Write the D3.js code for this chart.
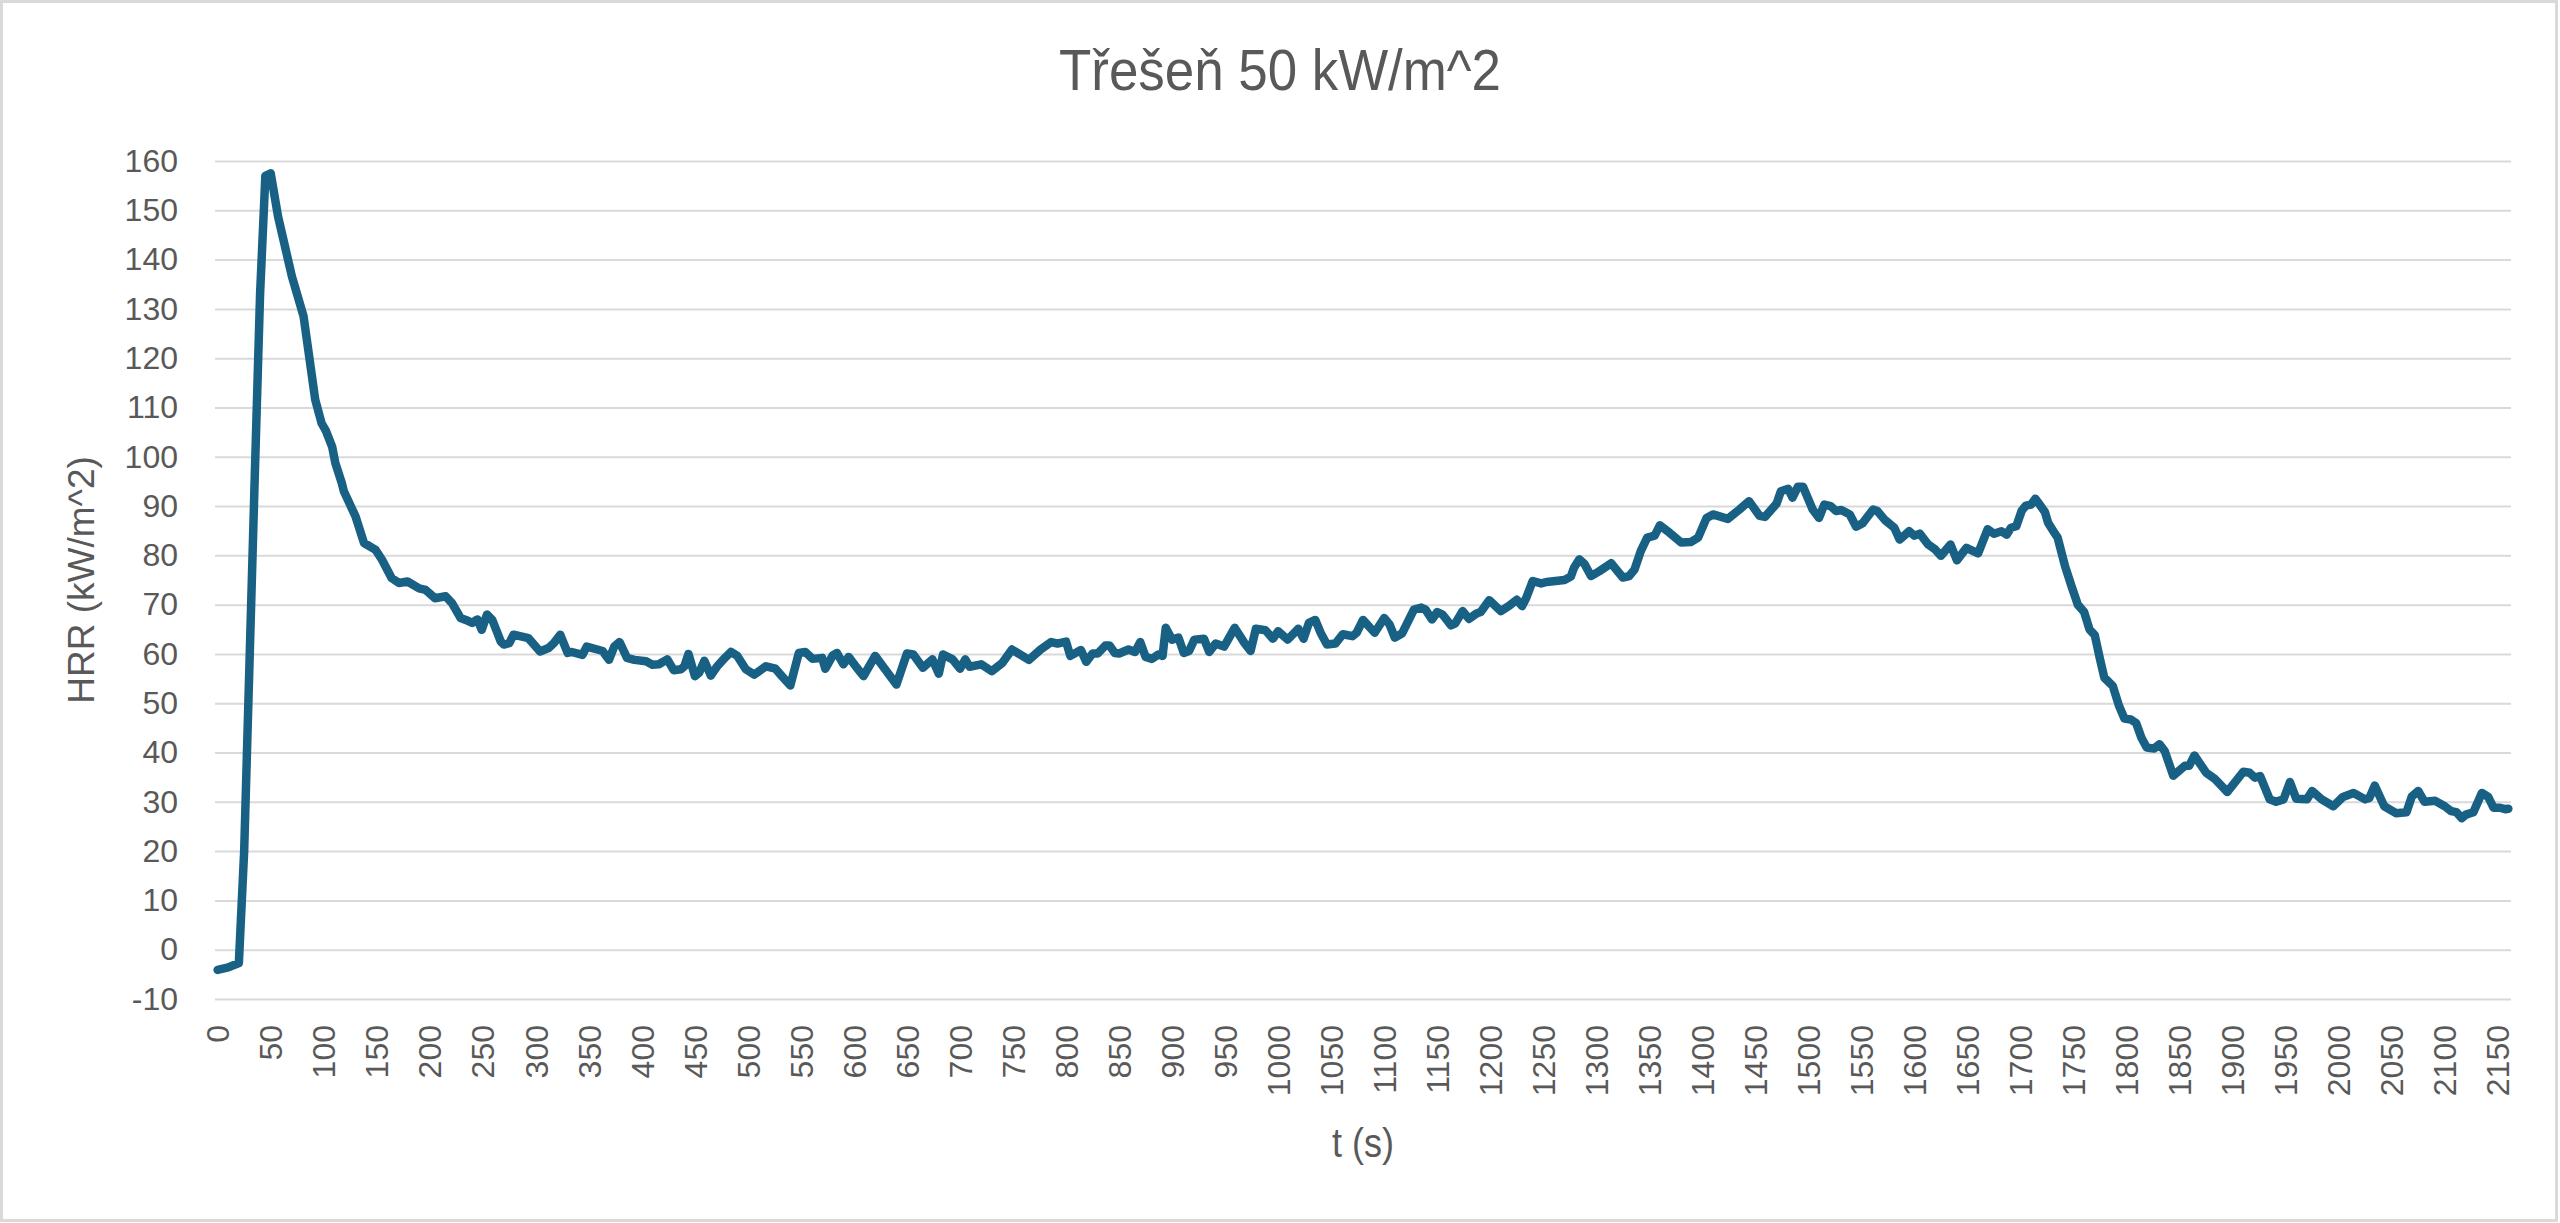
<!DOCTYPE html>
<html>
<head>
<meta charset="utf-8">
<title>Třešeň 50 kW/m^2</title>
<script src="https://cdn.jsdelivr.net/npm/d3@7/dist/d3.min.js"></script>
<style>
  html, body { margin: 0; padding: 0; background: #fff; }
  svg { display: block; }
</style>
</head>
<body>
<div id="chart"></div>
<script>
(function () {

  "use strict";

  // time (s) of the points
  var times = [
    0, 10, 20, 25, 30, 35, 40, 45, 50, 57, 70, 81, 92, 98, 102, 108, 111, 117, 119, 130,
    138, 149, 155, 164, 171, 179, 190, 196, 205, 215, 221, 229, 234, 240, 245, 249, 254, 259, 267, 270,
    275, 279, 293, 304, 312, 317, 323, 330, 334, 344, 348, 358, 363, 369, 374, 379, 386, 393, 404, 410,
    416, 424, 430, 437, 440, 444, 450, 454, 459, 465, 471, 477, 484, 490, 498, 506, 517, 526, 532, 540,
    548, 554, 561, 570, 573, 580, 584, 590, 595, 602, 609, 620, 629, 640, 650, 656, 665, 674, 680, 684,
    693, 700, 705, 709, 720, 730, 740, 749, 765, 776, 786, 792, 800, 804, 814, 819, 825, 830, 837, 841,
    846, 850, 859, 865, 870, 875, 881, 887, 891, 894, 900, 906, 911, 916, 921, 930, 935, 941, 949, 959,
    968, 974, 979, 988, 995, 1000, 1009, 1019, 1024, 1029, 1035, 1040, 1046, 1054, 1061, 1070, 1074, 1080, 1091, 1100,
    1105, 1110, 1117, 1128, 1135, 1139, 1145, 1150, 1155, 1163, 1167, 1174, 1180, 1187, 1191, 1199, 1210, 1218, 1225, 1230,
    1234, 1240, 1248, 1253, 1270, 1276, 1279, 1284, 1289, 1295, 1303, 1314, 1325, 1331, 1336, 1342, 1348, 1355, 1360, 1369,
    1380, 1389, 1396, 1404, 1410, 1424, 1435, 1444, 1454, 1459, 1470, 1474, 1481, 1485, 1490, 1495, 1504, 1510, 1515, 1521,
    1526, 1531, 1539, 1545, 1551, 1561, 1565, 1572, 1581, 1586, 1595, 1600, 1605, 1613, 1619, 1625, 1634, 1640, 1649, 1660,
    1669, 1675, 1682, 1687, 1691, 1696, 1701, 1705, 1710, 1714, 1718, 1723, 1726, 1731, 1735, 1742, 1748, 1754, 1760, 1765,
    1770, 1775, 1779, 1787, 1793, 1798, 1804, 1809, 1814, 1819, 1826, 1831, 1836, 1844, 1855, 1859, 1864, 1875, 1883, 1895,
    1910, 1916, 1921, 1926, 1935, 1941, 1948, 1954, 1960, 1970, 1975, 1984, 1995, 2004, 2014, 2025, 2029, 2034, 2043, 2054,
    2064, 2069, 2075, 2081, 2091, 2100, 2106, 2111, 2116, 2120, 2127, 2135, 2141, 2146, 2152, 2157, 2160
  ];

  // HRR (kW/m^2) at those times
  var hrr = [
    -4.1, -3.6, -2.7, 20, 58, 96, 133, 157, 157.5, 148.7, 136.6, 128.5, 111.6, 106.8, 105.3, 102, 98.7, 94.7, 93, 87.9,
    82.5, 81.1, 79.1, 75.4, 74.4, 74.7, 73.3, 73, 71.3, 71.7, 70.3, 67.3, 66.9, 66.3, 67, 64.9, 68, 66.9, 62.5, 61.9,
    62.2, 63.9, 63.2, 60.5, 61.2, 62.2, 63.9, 60.2, 60.4, 59.8, 61.5, 60.9, 60.6, 58.8, 61.5, 62.4, 59.2, 58.8, 58.5, 57.8,
    57.9, 58.9, 56.7, 56.9, 57.5, 60, 55.5, 56.2, 58.6, 55.6, 57.5, 58.9, 60.4, 59.6, 56.9, 55.8, 57.5, 57, 55.5, 53.6,
    60.2, 60.4, 59, 59.2, 57, 59.7, 60.2, 57.9, 59.4, 57.4, 55.5, 59.6, 57, 53.8, 60.1, 59.9, 57.2, 58.9, 56, 59.9,
    58.9, 57, 58.9, 57.4, 57.9, 56.5, 58.2, 60.9, 58.8, 60.9, 62.4, 62.1, 62.5, 59.6, 60.8, 58.4, 60.1, 60.1, 61.7, 61.7,
    60.2, 60.1, 60.9, 60.4, 62.4, 59.4, 59, 59.9, 59.6, 65.3, 62.9, 63.3, 60.2, 60.6, 62.9, 63.1, 60.4, 62.1, 61.5, 65.3,
    62.3, 60.6, 65.1, 64.8, 63.1, 64.6, 62.9, 65.1, 63.1, 66.3, 66.9, 64.3, 61.9, 62.1, 64, 63.6, 64.3, 66.9, 64.3, 67.3,
    66, 63.3, 64.2, 69, 69.4, 69, 67, 68.5, 68, 65.8, 66.2, 68.7, 67.1, 68.2, 68.5, 70.9, 68.7, 69.8, 71, 69.7,
    71.4, 74.8, 74.3, 74.6, 75, 75.7, 77.5, 79.2, 78.2, 75.8, 76.8, 78.4, 75.5, 75.8, 77.1, 80.9, 83.6, 84, 86.1, 84.6,
    82.6, 82.7, 83.6, 87.6, 88.3, 87.4, 89.3, 91, 88, 87.8, 90.5, 93, 93.5, 91.7, 93.9, 93.9, 89.3, 87.6, 90.3, 90,
    89, 89.2, 88.3, 85.8, 86.5, 89.3, 89, 87.2, 85.6, 83.2, 84.9, 84, 84.4, 82.2, 81.3, 79.9, 82.2, 79, 81.5, 80.4,
    85.3, 84.4, 84.9, 84.2, 85.6, 85.9, 89, 90.1, 90.3, 91.5, 90.3, 88.8, 86.6, 84.9, 83.6, 77.8, 73.8, 70, 68.5, 65,
    63.8, 58.9, 55.2, 53.5, 49.4, 46.9, 46.7, 46, 43, 41, 40.8, 41.7, 40.3, 35.3, 37.3, 37.3, 39.4, 35.9, 34.7, 32,
    36.1, 35.9, 34.9, 35.2, 30.5, 30, 30.5, 34, 30.6, 30.5, 32.2, 30.5, 29.1, 31, 31.8, 30.5, 30.8, 33.3, 29.1, 27.7,
    27.9, 31.1, 32.2, 30, 30.2, 29.1, 28.1, 27.9, 26.7, 27.4, 27.9, 31.8, 31, 28.8, 28.8, 28.5, 28.6
  ];

  var xTicks = d3.range(0, 2151, 50);
  var yTicks = d3.range(-10, 161, 10);

  var chartTitle = "Třešeň 50 kW/m^2";
  var xTitle = "t (s)";
  var yTitle = "HRR (kW/m^2)";

  var width = 2560,
      height = 1223,
      margin = {left: 215, right: 49, top: 161, bottom: 224};

  var textColor = "#595959",
      gridColor = "#d9d9d9",
      lineColor = "#186184";

  var svg = d3.select("#chart").append("svg")
    .attr("width", width)
    .attr("height", height);

  // outer chart border
  svg.append("rect")
    .attr("x", 1.5).attr("y", 1.5)
    .attr("width", width - 5).attr("height", height - 4)
    .attr("fill", "#fff")
    .attr("stroke", gridColor)
    .attr("stroke-width", 3);

  // category axis: each point sits in the middle of a 5 s slot
  var x = d3.scaleLinear()
    .domain([-2.5, 2162.5])
    .range([margin.left, width - margin.right]);

  var y = d3.scaleLinear()
    .domain([-10, 160])
    .range([height - margin.bottom, margin.top]);

  var yAxis = d3.axisLeft(y)
    .tickValues(yTicks)
    .tickSize(-(width - margin.left - margin.right))
    .tickPadding(37)
    .tickFormat(function (d) { return String(d); });

  var gy = svg.append("g")
    .attr("transform", "translate(" + margin.left + ",0)")
    .call(yAxis);

  gy.select(".domain").remove();
  gy.selectAll(".tick line")
    .attr("stroke", gridColor)
    .attr("stroke-width", 2);
  gy.selectAll(".tick text")
    .attr("fill", textColor)
    .style("font-family", "'Liberation Sans', Arial, sans-serif")
    .style("font-size", "32px");

  var xAxis = d3.axisBottom(x)
    .tickValues(xTicks)
    .tickSize(0)
    .tickFormat(function (d) { return String(d); });

  var gx = svg.append("g")
    .attr("transform", "translate(0," + (height - margin.bottom) + ")")
    .call(xAxis);

  gx.select(".domain").remove();
  gx.selectAll(".tick text")
    .attr("fill", textColor)
    .attr("transform", "rotate(-90)")
    .attr("x", -26)
    .attr("y", 0)
    .attr("dy", "0.35em")
    .style("text-anchor", "end")
    .style("font-family", "'Liberation Sans', Arial, sans-serif")
    .style("font-size", "32px");

  var line = d3.line()
    .x(function (d, i) { return x(times[i]); })
    .y(function (d) { return y(d); });

  svg.append("path")
    .datum(hrr)
    .attr("fill", "none")
    .attr("stroke", lineColor)
    .attr("stroke-width", 8.5)
    .attr("stroke-linejoin", "round")
    .attr("stroke-linecap", "round")
    .attr("d", line);

  // the title font is a narrow face, so squeeze it to the measured width
  svg.append("text")
    .attr("x", width / 2)
    .attr("y", 90)
    .attr("text-anchor", "middle")
    .attr("fill", textColor)
    .attr("textLength", 442)
    .attr("lengthAdjust", "spacingAndGlyphs")
    .style("font-family", "'Liberation Sans', Arial, sans-serif")
    .style("font-size", "57px")
    .text(chartTitle);

  svg.append("text")
    .attr("x", (margin.left + width - margin.right) / 2)
    .attr("y", 1157)
    .attr("text-anchor", "middle")
    .attr("fill", textColor)
    .attr("textLength", 62)
    .attr("lengthAdjust", "spacingAndGlyphs")
    .style("font-family", "'Liberation Sans', Arial, sans-serif")
    .style("font-size", "41px")
    .text(xTitle);

  svg.append("text")
    .attr("transform", "translate(94," + ((margin.top + height - margin.bottom) / 2) + ") rotate(-90)")
    .attr("text-anchor", "middle")
    .attr("fill", textColor)
    .style("font-family", "'Liberation Sans', Arial, sans-serif")
    .style("font-size", "37px")
    .text(yTitle);

}());
</script>
</body>
</html>
